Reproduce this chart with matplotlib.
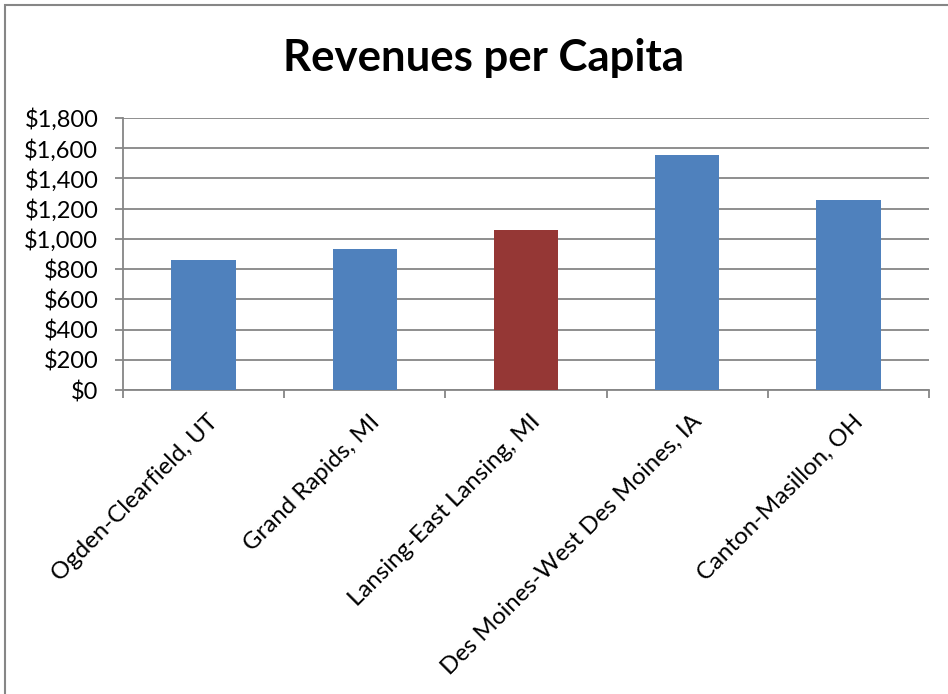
import matplotlib
matplotlib.use("Agg")
import matplotlib.pyplot as plt
from matplotlib.ticker import FuncFormatter
from matplotlib.patches import Rectangle
from matplotlib.transforms import ScaledTranslation

categories = ["Ogden-Clearfield, UT", "Grand Rapids, MI", "Lansing-East Lansing, MI",
              "Des Moines-West Des Moines, IA", "Canton-Masillon, OH"]
values = [858, 932, 1057, 1558, 1257]
colors = ["#4F81BD", "#4F81BD", "#953735", "#4F81BD", "#4F81BD"]
yticks = [0, 200, 400, 600, 800, 1000, 1200, 1400, 1600, 1800]

plt.rcParams['font.family'] = ['Lato', 'DejaVu Sans']

W, H = 948, 694
fig = plt.figure(figsize=(W/100, H/100), dpi=100)
fig.patches.append(Rectangle((5/W, -0.1), 2.0, 1.1 - 5/H, transform=fig.transFigure,
                             fill=False, edgecolor="#868686", linewidth=1.5))

left, right, top, bottom = 123, 929, 118, 390
ax = fig.add_axes([left/W, 1 - bottom/H, (right-left)/W, (bottom-top)/H])

x = list(range(len(categories)))
ax.bar(x, values, width=0.4, color=colors, zorder=3)
ax.set_xlim(-0.5, len(categories) - 0.5)
ax.set_ylim(0, 1800)
ax.set_yticks(yticks)
ax.yaxis.set_major_formatter(FuncFormatter(lambda v, p: "${:,.0f}".format(v)))
ax.grid(axis='y', color="#868686", linewidth=1.3, zorder=0)

ax.set_xticks([i + 0.5 for i in range(-1, len(categories))])
ax.set_xticklabels([])
ax.set_xticks(x, minor=True)
ax.set_xticklabels(categories, minor=True, rotation=45, ha='right', va='top',
                   rotation_mode='anchor', fontsize=17.3)
ax.tick_params(axis='x', which='minor', length=0, pad=15)
ax.tick_params(axis='x', which='major', length=5.8, color="#868686", width=1.3, direction='out')
ax.tick_params(axis='y', length=5.8, color="#868686", width=1.3, labelsize=17, pad=12)

offset = ScaledTranslation(4/100, 0, fig.dpi_scale_trans)
for lbl in ax.get_xticklabels(minor=True):
    lbl.set_transform(lbl.get_transform() + offset)

for s in ['top', 'right']:
    ax.spines[s].set_visible(False)
for s in ['left', 'bottom']:
    ax.spines[s].set_color("#868686")
    ax.spines[s].set_linewidth(1.3)

fig.text(483/W, 1 - 58/H, "Revenues per Capita", ha='center', va='center',
         fontsize=31.5, fontweight='bold')

fig.savefig("out.png", dpi=100)
